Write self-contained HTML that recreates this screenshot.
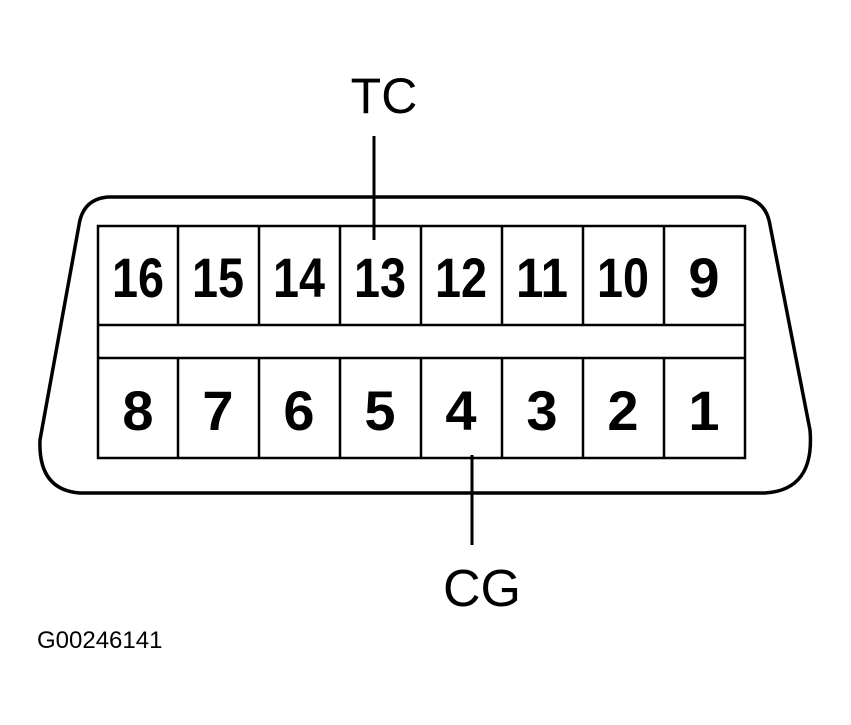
<!DOCTYPE html>
<html><head><meta charset="utf-8"><style>html,body{margin:0;padding:0;background:#fff}svg{display:block}</style></head>
<body>
<svg width="851" height="725" viewBox="0 0 851 725" xmlns="http://www.w3.org/2000/svg" font-family="Liberation Sans, Arial, sans-serif">
<rect width="851" height="725" fill="#fff"/>
<path d="M108 197 L740 197 Q766 199 770 225 L810 430 Q815 490 765 493 L80 493 Q38 490 40 440 L79 225 Q83 199 108 197 Z" fill="none" stroke="#000" stroke-width="3.5"/>
<g fill="none" stroke="#000" stroke-width="2.5">
<rect x="98" y="226" width="647" height="232"/>
<line x1="98" y1="325" x2="745" y2="325"/>
<line x1="98" y1="358" x2="745" y2="358"/>
<g>
<line x1="178" y1="226" x2="178" y2="325"/><line x1="259" y1="226" x2="259" y2="325"/><line x1="340" y1="226" x2="340" y2="325"/><line x1="421" y1="226" x2="421" y2="325"/><line x1="502" y1="226" x2="502" y2="325"/><line x1="583" y1="226" x2="583" y2="325"/><line x1="664" y1="226" x2="664" y2="325"/>
<line x1="178" y1="358" x2="178" y2="458"/><line x1="259" y1="358" x2="259" y2="458"/><line x1="340" y1="358" x2="340" y2="458"/><line x1="421" y1="358" x2="421" y2="458"/><line x1="502" y1="358" x2="502" y2="458"/><line x1="583" y1="358" x2="583" y2="458"/><line x1="664" y1="358" x2="664" y2="458"/>
</g>
</g>
<line x1="374" y1="136" x2="374" y2="240" stroke="#000" stroke-width="3"/>
<line x1="472" y1="455" x2="472" y2="545" stroke="#000" stroke-width="3"/>
<g font-size="56" font-weight="bold" text-anchor="middle" fill="#000">
<text x="138" y="297" textLength="52" lengthAdjust="spacingAndGlyphs">16</text>
<text x="218" y="297" textLength="52" lengthAdjust="spacingAndGlyphs">15</text>
<text x="299" y="297" textLength="52" lengthAdjust="spacingAndGlyphs">14</text>
<text x="380" y="297" textLength="52" lengthAdjust="spacingAndGlyphs">13</text>
<text x="461" y="297" textLength="52" lengthAdjust="spacingAndGlyphs">12</text>
<text x="542" y="297" textLength="52" lengthAdjust="spacingAndGlyphs">11</text>
<text x="623" y="297" textLength="52" lengthAdjust="spacingAndGlyphs">10</text>
<text x="704" y="297">9</text>
<text x="138" y="430">8</text>
<text x="218" y="430">7</text>
<text x="299" y="430">6</text>
<text x="380" y="430">5</text>
<text x="461" y="430">4</text>
<text x="542" y="430">3</text>
<text x="623" y="430">2</text>
<text x="704" y="430">1</text>
</g>
<text x="384" y="113" font-size="50" text-anchor="middle">TC</text>
<text x="482" y="606" font-size="52" text-anchor="middle">CG</text>
<text x="37" y="648" font-size="24">G00246141</text>
</svg>
</body></html>
